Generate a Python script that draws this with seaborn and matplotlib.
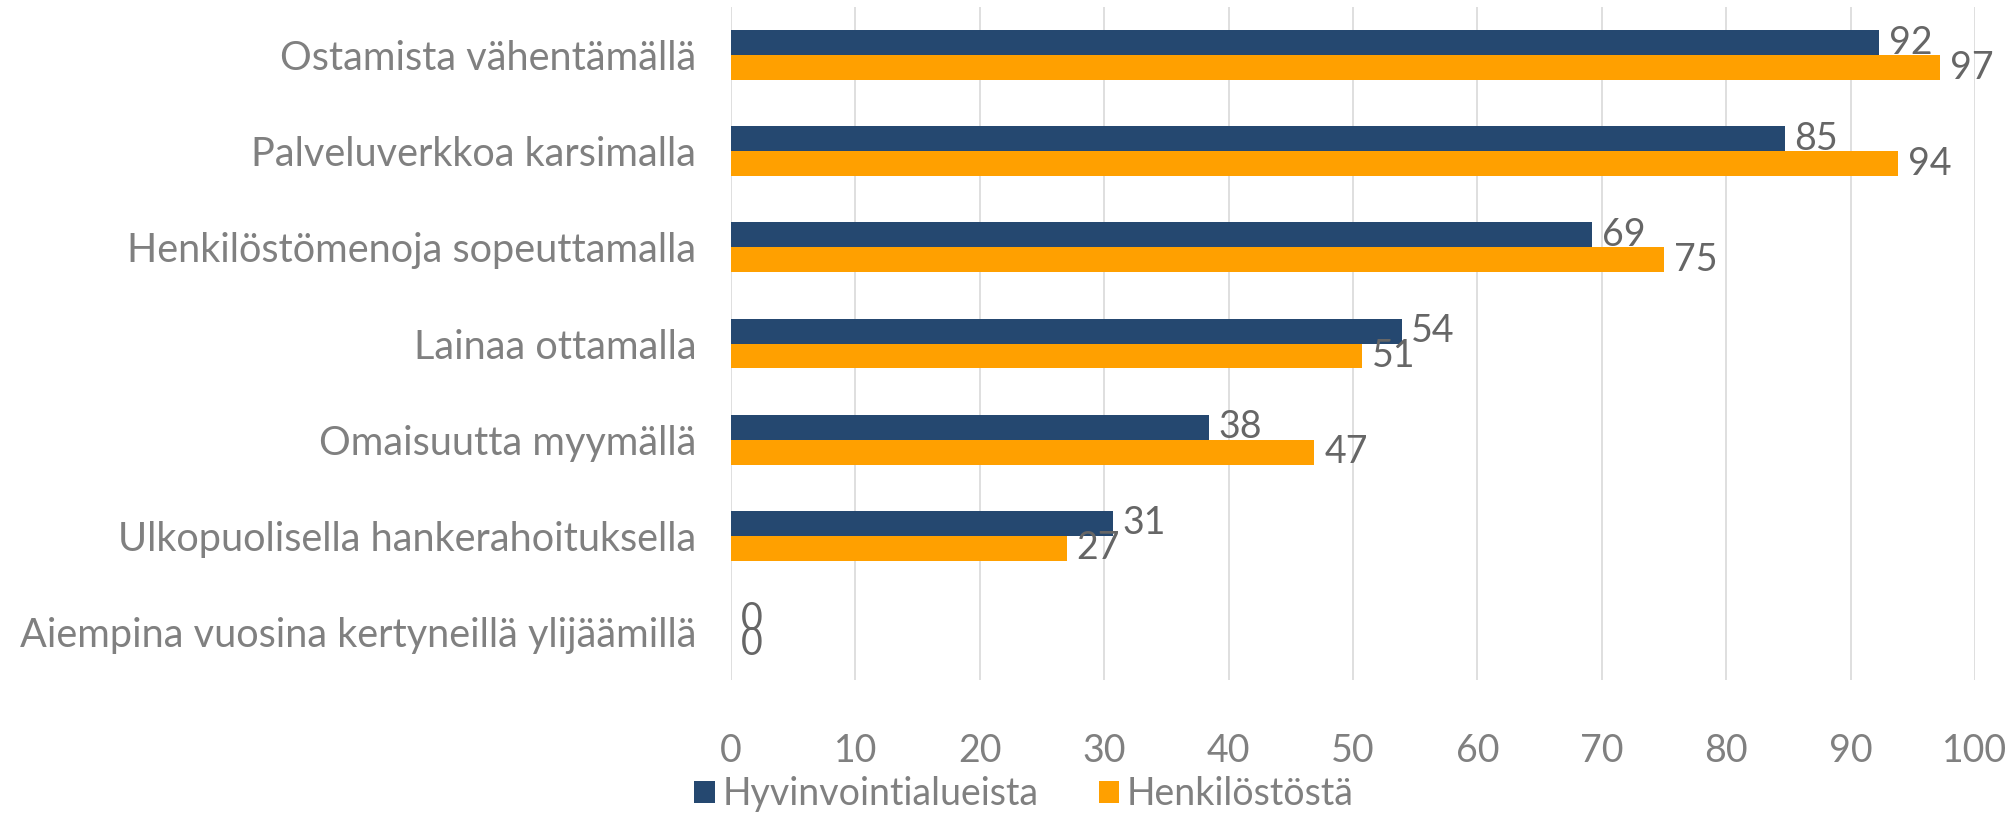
import pandas as pd
import matplotlib.pyplot as plt
import seaborn as sns

# Data
keinot = [
    "Ostamista vähentämällä",
    "Palveluverkkoa karsimalla",
    "Henkilöstömenoja sopeuttamalla",
    "Lainaa ottamalla",
    "Omaisuutta myymällä",
    "Ulkopuolisella hankerahoituksella",
    "Aiempina vuosina kertyneillä ylijäämillä",
]
hyvinvointialueet = [92.3, 84.7, 69.2, 53.9, 38.4, 30.7, 0]
henkilosto = [97.2, 93.8, 75.0, 50.7, 46.9, 27.0, 0]
sarjat = ["Hyvinvointialueista", "Henkilöstöstä"]
x_ticks = [0, 10, 20, 30, 40, 50, 60, 70, 80, 90, 100]

df = pd.DataFrame({
    "Keino": keinot * 2,
    "Osuus": hyvinvointialueet + henkilosto,
    "Vastaaja": [sarjat[0]] * len(keinot) + [sarjat[1]] * len(keinot),
})

sns.set_theme(style="white")
plt.rcParams["font.family"] = ["Lato", "DejaVu Sans"]
plt.rcParams["font.size"] = 27

grey = "#808080"
fig = plt.figure(figsize=(20.16, 8.13), dpi=100)
ax = fig.add_axes([731 / 2016, 1 - 680 / 813, (1975 - 731) / 2016, (680 - 7) / 813])

sns.barplot(data=df, y="Keino", x="Osuus", hue="Vastaaja", order=keinot,
            hue_order=sarjat, palette=["#254870", "#FFA000"], saturation=1,
            width=0.52, orient="h", ax=ax, legend=True, linewidth=0)

for c in ax.containers:
    ax.bar_label(c, fmt="%.0f", padding=7, color="#666666", fontsize=27)

ax.set_xlim(0, 100)
ax.set_ylim(len(keinot) - 0.5, -0.5)
ax.set_xticks(x_ticks)
ax.grid(axis="x", color="#d9d9d9", linewidth=1.2)
ax.set_axisbelow(True)
sns.despine(ax=ax, left=True, bottom=True)
ax.set_xlabel("")
ax.set_ylabel("")
ax.tick_params(axis="y", length=0, pad=25, labelcolor=grey, labelsize=28.5)
ax.tick_params(axis="x", length=0, pad=38, labelcolor=grey, labelsize=27)

handles, labels = ax.get_legend_handles_labels()
ax.get_legend().remove()
fig.legend(handles, labels, loc="center", bbox_to_anchor=(0.508, 0.023),
           ncol=2, frameon=False, fontsize=27, labelcolor=grey,
           handlelength=0.55, handleheight=0.55, handletextpad=0.2,
           columnspacing=1.6, borderpad=0)

fig.savefig("out.png", dpi=100)
